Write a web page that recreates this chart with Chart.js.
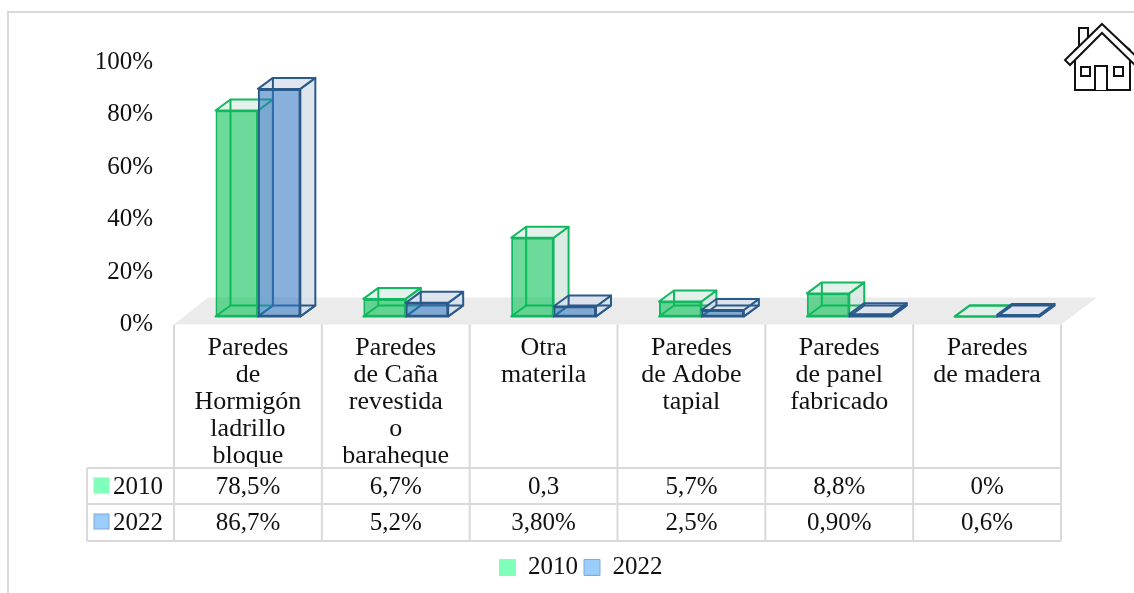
<!DOCTYPE html>
<html lang="es">
<head>
<meta charset="utf-8">
<title>Paredes 2010 - 2022</title>
<script src="https://cdn.jsdelivr.net/npm/chart.js@4/dist/chart.umd.min.js"></script>
<style>
  html, body { margin: 0; padding: 0; background: #fff; overflow: hidden; }
  #wrap { position: relative; width: 1134px; height: 593px; }
  #frame { position: absolute; left: 7px; top: 11px; right: 0; bottom: 0; border-left: 2px solid #d9d9d9; border-top: 2px solid #d9d9d9; }
  #house { position: absolute; left: 0; top: 0; }
</style>
</head>
<body>
<div id="wrap">
  <div id="frame"></div>
  <canvas id="grafico" width="1134" height="593" style="position:absolute;left:0;top:0"></canvas>
  <svg id="house" width="1134" height="593" fill="#fff" stroke="#111" stroke-width="2">
    <polygon points="1079,28 1088,28 1088,50 1079,50"/>
    <polygon points="1075,50 1102,28 1130,50 1130,90 1075,90"/>
    <polygon points="1102,24 1140,60 1135,65 1102,33 1070,65 1065,60"/>
    <polyline points="1095,90 1095,66 1107,66 1107,90"/>
    <rect x="1081" y="67" width="9" height="9"/>
    <rect x="1114" y="67" width="9" height="9"/>
  </svg>
</div>
<script>
const categories = [
  ["Paredes", "de", "Hormigón", "ladrillo", "bloque"],
  ["Paredes", "de Caña", "revestida", "o", "baraheque"],
  ["Otra", "materila"],
  ["Paredes", "de Adobe", "tapial"],
  ["Paredes", "de panel", "fabricado"],
  ["Paredes", "de madera"],
];
const seriesNames = ["2010", "2022"];
// la barra de "Otra materila" sale cerca de 30 aunque la tabla dice 0,3
const values2010 = [78.5, 6.7, 30, 5.7, 8.8, 0];
const values2022 = [86.7, 5.2, 3.8, 2.5, 0.9, 0.6];
const labels2010 = ["78,5%", "6,7%", "0,3", "5,7%", "8,8%", "0%"];
const labels2022 = ["86,7%", "5,2%", "3,80%", "2,5%", "0,90%", "0,6%"];
const yTicks = [0, 20, 40, 60, 80, 100];

const fontName = "'Liberation Serif', serif";
const fontSize = 25;
const lineColor = "#d9d9d9";
const swatches = ["#80ffbb", "#9bcdfa"];
const swatchBorders = ["#80ffbb", "#7fa9d6"];
const faces = ["rgba(0,191,81,0.58)", "rgba(48,121,195,0.58)"];
const edges = ["#12b85f", "#2a5a8a"];
const topFaces = ["rgba(225,240,233,0.85)", "rgba(218,225,236,0.85)"];
const sideFaces = ["rgba(215,232,224,0.85)", "rgba(214,222,233,0.8)"];

// desplazamiento de la caja y del piso (falso 3D)
const depthX = 15;
const depthY = -11;
const shiftX = 10;
const shiftY = -8;

// Piso gris detras de las barras
function drawFloor(chart) {
  const { ctx, chartArea } = chart;
  ctx.save();
  ctx.fillStyle = "#ebebeb";
  ctx.beginPath();
  ctx.moveTo(chartArea.left, chartArea.bottom);
  ctx.lineTo(chartArea.right, chartArea.bottom);
  ctx.lineTo(chartArea.right + 36, chartArea.bottom - 27);
  ctx.lineTo(chartArea.left + 34, chartArea.bottom - 27);
  ctx.closePath();
  ctx.fill();
  ctx.restore();
}

function polygon(ctx, pts, fill, stroke) {
  ctx.beginPath();
  ctx.moveTo(pts[0][0], pts[0][1]);
  for (let i = 1; i < pts.length; i++) {
    ctx.lineTo(pts[i][0], pts[i][1]);
  }
  ctx.closePath();
  if (fill) {
    ctx.fillStyle = fill;
    ctx.fill();
  }
  if (stroke) {
    ctx.strokeStyle = stroke;
    ctx.stroke();
  }
}

// Una barra: caras traseras primero, luego la cara frontal de Chart.js
function drawBox(ctx, bar, i) {
  const x0 = bar.x - bar.width / 2;
  const x1 = bar.x + bar.width / 2;
  const top = bar.y;
  const bottom = bar.base;
  const dx = depthX;
  const dy = depthY;
  ctx.lineWidth = 2;
  ctx.lineJoin = "round";
  polygon(ctx, [[x1, top], [x1 + dx, top + dy], [x1 + dx, bottom + dy], [x1, bottom]], sideFaces[i], edges[i]);
  polygon(ctx, [[x0, top], [x1, top], [x1 + dx, top + dy], [x0 + dx, top + dy]], topFaces[i], edges[i]);
  polygon(ctx, [[x0, bottom], [x1, bottom], [x1 + dx, bottom + dy], [x0 + dx, bottom + dy]], null, edges[i]);
  ctx.beginPath();
  ctx.moveTo(x0 + dx, top + dy);
  ctx.lineTo(x0 + dx, bottom + dy);
  ctx.strokeStyle = edges[i];
  ctx.stroke();
  bar.draw(ctx);
}

const boxes3d = {
  id: "boxes3d",
  // la leyenda va centrada bajo la tabla, no bajo todo el lienzo
  afterLayout(chart) {
    chart.legend.left += 20.5;
    chart.legend.right += 20.5;
  },
  beforeDatasetsDraw(chart) {
    const ctx = chart.ctx;
    drawFloor(chart);
    ctx.save();
    ctx.translate(shiftX, shiftY);
    for (let i = 0; i < seriesNames.length; i++) {
      chart.getDatasetMeta(i).data.forEach((bar) => drawBox(ctx, bar, i));
    }
    ctx.restore();
    return false;
  },
};

// Tabla de datos debajo del grafico
const dataTable = {
  id: "dataTable",
  afterDraw(chart) {
    const { ctx, chartArea, scales } = chart;
    const left = chartArea.left;
    const right = chartArea.right;
    const rowTop = 468;
    const rowMid = 504;
    const rowEnd = 541;
    const keyLeft = 87;
    const step = (right - left) / categories.length;

    ctx.save();
    ctx.strokeStyle = lineColor;
    ctx.lineWidth = 2;
    ctx.beginPath();
    for (let i = 0; i <= categories.length; i++) {
      ctx.moveTo(left + step * i, chartArea.bottom);
      ctx.lineTo(left + step * i, rowEnd);
    }
    ctx.moveTo(keyLeft, rowTop);
    ctx.lineTo(keyLeft, rowEnd);
    [rowTop, rowMid, rowEnd].forEach((y) => {
      ctx.moveTo(keyLeft, y);
      ctx.lineTo(right, y);
    });
    ctx.stroke();

    ctx.font = fontSize + "px " + fontName;
    ctx.fillStyle = "#111";
    ctx.textBaseline = "middle";
    ctx.textAlign = "center";
    categories.forEach((c, i) => {
      const x = scales.x.getPixelForValue(i);
      ctx.fillText(labels2010[i], x, 487);
      ctx.fillText(labels2022[i], x, 523);
    });

    ctx.textAlign = "left";
    seriesNames.forEach((name, i) => {
      const y = i === 0 ? 486 : 522;
      ctx.fillStyle = swatches[i];
      ctx.fillRect(94, y - 8, 15, 15);
      ctx.strokeStyle = swatchBorders[i];
      ctx.lineWidth = 1;
      ctx.strokeRect(94, y - 8, 15, 15);
      ctx.fillStyle = "#111";
      ctx.fillText(name, 113, y + 1);
    });
    ctx.restore();
  },
};

const chart = new Chart(document.getElementById("grafico").getContext("2d"), {
  type: "bar",
  data: {
    labels: categories,
    datasets: [
      { label: seriesNames[0], data: values2010, backgroundColor: faces[0], borderColor: edges[0], borderWidth: 2, borderSkipped: false },
      { label: seriesNames[1], data: values2022, backgroundColor: faces[1], borderColor: edges[1], borderWidth: 2, borderSkipped: false },
    ],
  },
  options: {
    responsive: false,
    animation: false,
    layout: { autoPadding: false, padding: { left: 60, right: 73, top: 62, bottom: 3 } },
    categoryPercentage: 0.574,
    barPercentage: 1,
    scales: {
      x: {
        grid: { display: false, drawTicks: false },
        border: { display: false },
        afterFit(scale) { scale.height = 224.5; },
        ticks: {
          autoSkip: false,
          maxRotation: 0,
          padding: 10,
          color: "#111",
          font: { family: fontName, size: 26, lineHeight: 27 / 26 },
        },
      },
      y: {
        min: 0,
        max: 100,
        grid: { display: false, drawTicks: false },
        border: { display: false },
        afterFit(scale) { scale.width = 114; },
        afterBuildTicks(scale) { scale.ticks = yTicks.map((v) => ({ value: v })); },
        ticks: {
          padding: 21,
          color: "#111",
          font: { family: fontName, size: fontSize },
          callback: (v) => v + "%",
        },
      },
    },
    plugins: {
      tooltip: { enabled: false },
      legend: {
        position: "bottom",
        labels: {
          boxWidth: 16,
          boxHeight: 16,
          padding: 6,
          color: "#111",
          font: { family: fontName, size: fontSize },
          generateLabels: () => seriesNames.map((name, i) => ({
            text: name,
            fontColor: "#111",
            fillStyle: swatches[i],
            strokeStyle: swatchBorders[i],
            lineWidth: 1,
            hidden: false,
            datasetIndex: i,
          })),
        },
      },
    },
  },
  plugins: [boxes3d, dataTable],
});
</script>
</body>
</html>
